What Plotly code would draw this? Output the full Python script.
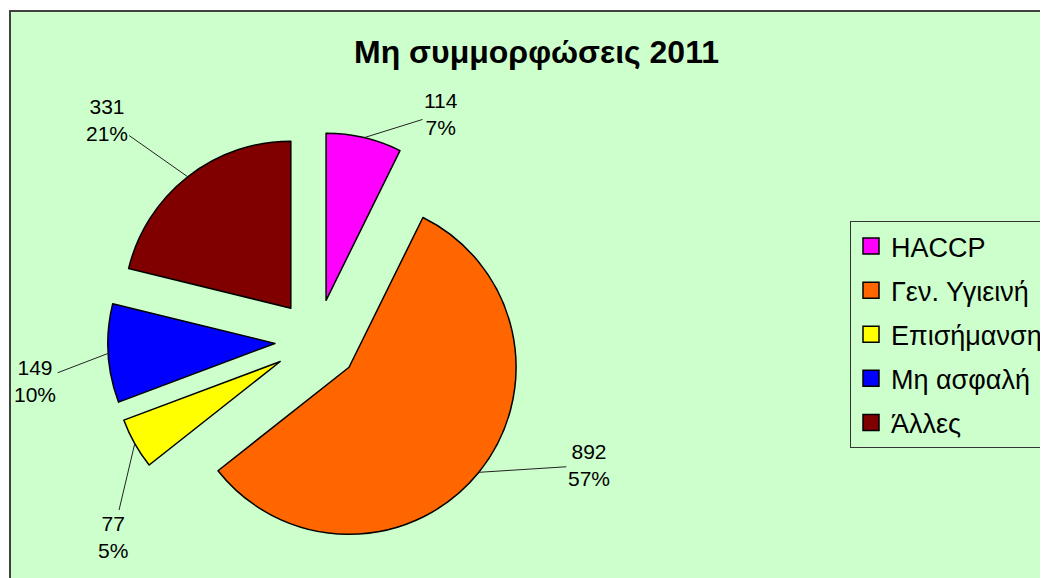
import math
import plotly.graph_objects as go

# ---- data ----
categories = ["HACCP", "Γεν. Υγιεινή", "Επισήμανση", "Μη ασφαλή", "Άλλες"]
values = [114, 892, 77, 149, 331]
colors = ["#FF00FF", "#FF6600", "#FFFF00", "#0000FF", "#800000"]
title_text = "Μη συμμορφώσεις 2011"

# ---- layout constants (page body has an 8px margin) ----
W, H = 1048, 578
OFF = 8
PULL = 0.25
CX, CY, R = 316.6 - OFF, 341 - OFF, 167
half = R * (1 + PULL)
dom_x = [(CX - half) / W, (CX + half) / W]
dom_y = [1 - (CY + half) / H, 1 - (CY - half) / H]
FONT = "Arial, Liberation Sans, sans-serif"
# label text offsets (pixels) from the slice edge point
label_offsets = [(77, -24), (110, -7), (-22, 93), (-73, 28), (-81, -57)]

fig = go.Figure()
fig.add_trace(go.Pie(
    labels=categories, values=values, sort=False, direction="clockwise",
    rotation=0, pull=[PULL] * len(values),
    marker=dict(colors=colors, line=dict(color="black", width=1.5)),
    textinfo="none", domain=dict(x=dom_x, y=dom_y),
    hoverinfo="label+value+percent", showlegend=False,
))

# legend entries (square swatches)
for cat, c in zip(categories, colors):
    fig.add_trace(go.Scatter(
        x=[None], y=[None], mode="markers", name=cat, legendgroup=cat,
        marker=dict(symbol="square", size=17, color=c, line=dict(color="black", width=1.5)),
    ))

# geometry of the pie (pixels) derived from the domain, as plotly does
bw = (dom_x[1] - dom_x[0]) * W
bh = (dom_y[1] - dom_y[0]) * H
r = min(bw, bh) / 2 / (1 + PULL)
cx = (dom_x[0] + dom_x[1]) / 2 * W
cy = (1 - (dom_y[0] + dom_y[1]) / 2) * H
total = sum(values)
cum = 0
for v, (ax, ay) in zip(values, label_offsets):
    mid = (cum + v / 2) / total * 2 * math.pi
    cum += v
    ex = cx + (1 + PULL) * r * math.sin(mid)
    ey = cy - (1 + PULL) * r * math.cos(mid)
    pct = round(v / total * 100)
    fig.add_annotation(
        x=ex / W, y=1 - ey / H, xref="paper", yref="paper",
        text=f"{v}<br>{pct}%", showarrow=True, arrowhead=0, arrowwidth=1,
        arrowcolor="#222", ax=ax, ay=ay, standoff=0,
        font=dict(family=FONT, size=21, color="black"),
    )

# green chart area with border
fig.add_shape(type="rect", xref="paper", yref="paper",
              x0=(10 - OFF) / W, x1=1.02, y0=-0.02, y1=1 - (11 - OFF) / H,
              fillcolor="#CCFFCC", line=dict(color="#404040", width=2), layer="below")

fig.update_layout(
    width=W, height=H, paper_bgcolor="white", plot_bgcolor="rgba(0,0,0,0)",
    margin=dict(l=0, r=0, t=0, b=0, autoexpand=False),
    xaxis=dict(visible=False), yaxis=dict(visible=False),
    title=dict(text=f"<b>{title_text}</b>", x=(536.5 - OFF) / W, y=1 - (52 - OFF) / H,
               xanchor="center", yanchor="middle",
               font=dict(family=FONT, size=32, color="black")),
    showlegend=True,
    legend=dict(x=(850 - OFF) / W, y=1 - (221 - OFF) / H, xanchor="left", yanchor="top",
                bgcolor="#CCFFCC", bordercolor="#333", borderwidth=1,
                tracegroupgap=6, itemclick=False, itemwidth=30,
                font=dict(family=FONT, size=27, color="black")),
)

fig.write_html("out.html")
